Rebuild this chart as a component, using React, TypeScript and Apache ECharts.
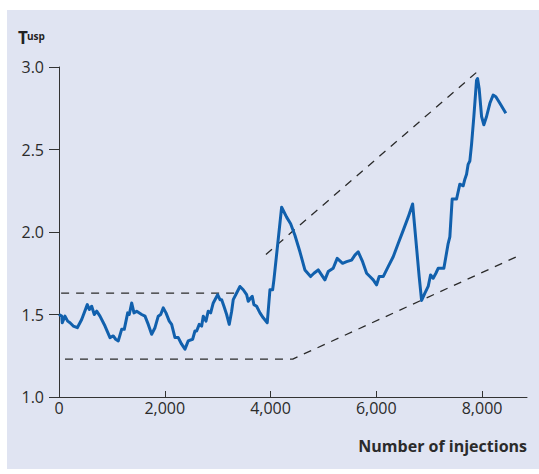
import React, { useEffect, useRef } from "react";
import * as echarts from "echarts";

// T_usp trace: [number of injections, T_usp]
const tuspX = [0, 51, 62, 113, 164, 208, 270, 346, 429, 535, 573, 618, 667, 713, 775, 870, 964, 1026, 1072, 1121, 1185, 1234, 1299, 1329, 1374, 1418, 1469, 1563, 1626, 1688, 1752, 1815, 1877, 1923, 1972, 2023, 2085, 2130, 2193, 2255, 2319, 2382, 2444, 2527, 2571, 2603, 2652, 2698, 2728, 2779, 2822, 2868, 2917, 3000, 3044, 3076, 3119, 3170, 3219, 3265, 3295, 3359, 3422, 3484, 3548, 3579, 3624, 3654, 3686, 3737, 3800, 3862, 3938, 3989, 4040, 4064, 4210, 4304, 4380, 4461, 4556, 4650, 4758, 4821, 4902, 5028, 5091, 5185, 5261, 5363, 5439, 5533, 5596, 5658, 5741, 5817, 5879, 5942, 6006, 6055, 6131, 6225, 6320, 6414, 6509, 6603, 6687, 6749, 6811, 6857, 6919, 6981, 7027, 7076, 7127, 7170, 7278, 7316, 7359, 7391, 7435, 7518, 7580, 7643, 7675, 7707, 7737, 7769, 7801, 7845, 7896, 7915, 7945, 7991, 8034, 8085, 8148, 8210, 8261, 8337, 8450];
const tuspY = [1.5, 1.49, 1.45, 1.49, 1.46, 1.45, 1.43, 1.42, 1.47, 1.56, 1.53, 1.55, 1.5, 1.52, 1.49, 1.43, 1.36, 1.37, 1.35, 1.34, 1.41, 1.41, 1.51, 1.5, 1.57, 1.51, 1.52, 1.5, 1.49, 1.44, 1.38, 1.42, 1.49, 1.5, 1.54, 1.51, 1.46, 1.44, 1.36, 1.36, 1.32, 1.29, 1.34, 1.35, 1.4, 1.4, 1.44, 1.43, 1.49, 1.46, 1.52, 1.51, 1.57, 1.62, 1.59, 1.59, 1.55, 1.5, 1.44, 1.52, 1.59, 1.63, 1.67, 1.65, 1.62, 1.58, 1.6, 1.61, 1.56, 1.55, 1.51, 1.48, 1.45, 1.65, 1.65, 1.71, 2.15, 2.09, 2.05, 1.98, 1.88, 1.77, 1.73, 1.75, 1.77, 1.71, 1.76, 1.78, 1.84, 1.81, 1.82, 1.83, 1.86, 1.88, 1.82, 1.75, 1.73, 1.71, 1.68, 1.73, 1.73, 1.79, 1.85, 1.93, 2.01, 2.09, 2.17, 1.95, 1.73, 1.585, 1.63, 1.67, 1.74, 1.72, 1.75, 1.78, 1.78, 1.85, 1.93, 1.97, 2.2, 2.2, 2.29, 2.28, 2.32, 2.35, 2.41, 2.43, 2.53, 2.7, 2.92, 2.93, 2.87, 2.7, 2.65, 2.7, 2.78, 2.83, 2.82, 2.78, 2.72];

// Dashed guide lines: [x, y] end points
const upperFlat = [[40, 1.63], [3350, 1.63]];
const lowerFlat = [[113, 1.23], [4420, 1.23], [8720, 1.86]];
const upperSlope = [[3913, 1.864], [7959, 2.985]];

const xTicks = [0, 2000, 4000, 6000, 8000];
const yTicks = [1.0, 1.5, 2.0, 2.5, 3.0];

const FONT = "'Open Sans', 'Noto Sans', sans-serif";

export default function App() {
  const ref = useRef<HTMLDivElement>(null);
  useEffect(() => {
    if (!ref.current) return;
    const chart = echarts.init(ref.current, null, { renderer: "svg" });
    const dashed = (data: number[][]) => ({
      type: "line",
      data,
      symbol: "none",
      silent: true,
      clip: false,
      lineStyle: { color: "#2a2a2a", width: 1.3, type: [8, 7] },
    });
    chart.setOption({
      animation: false,
      backgroundColor: "#ffffff",
      textStyle: { fontFamily: FONT },
      graphic: [
        {
          type: "rect",
          z: -10,
          silent: true,
          shape: { x: 7, y: 10, width: 532, height: 459 },
          style: { fill: "#e0e4f2" },
        },
        {
          type: "text",
          x: 18,
          y: 29,
          style: { text: "T", font: `bold 17px ${FONT}`, fill: "#222" },
        },
        {
          type: "text",
          x: 27,
          y: 31,
          style: { text: "usp", font: `bold 10px ${FONT}`, fill: "#222" },
        },
      ],
      grid: { left: 59, right: 12, top: 67, bottom: 77, containLabel: false, outerBoundsMode: "none" },
      xAxis: {
        type: "value",
        min: 0,
        max: 8850,
        interval: 2000,
        splitLine: { show: false },
        axisLine: { show: true, lineStyle: { color: "#333", width: 1 } },
        axisTick: { show: true, inside: true, length: 6, lineStyle: { color: "#333" }, customValues: xTicks },
        axisLabel: {
          customValues: xTicks,
          color: "#2b2b2b",
          fontSize: 16,
          fontFamily: FONT,
          margin: 3,
          formatter: (v: number) => v.toLocaleString("en-US"),
        },
        name: "Number of injections",
        nameLocation: "end",
        nameGap: 0,
        nameTextStyle: {
          fontSize: 16,
          fontWeight: "bold",
          color: "#2b2b2b",
          fontFamily: FONT,
          align: "right",
          verticalAlign: "top",
          padding: [41, 0, 0, 0],
        },
      },
      yAxis: {
        type: "value",
        min: 1.0,
        max: 3.0,
        interval: 0.5,
        splitLine: { show: false },
        axisLine: { show: true, lineStyle: { color: "#333", width: 1 } },
        axisTick: { show: true, inside: false, length: 10, lineStyle: { color: "#333" } },
        axisLabel: {
          color: "#2b2b2b",
          fontSize: 16,
          fontFamily: FONT,
          margin: 15,
          formatter: (v: number) => v.toFixed(1),
        },
      },
      series: [
        dashed(upperFlat),
        dashed(lowerFlat),
        dashed(upperSlope),
        {
          type: "line",
          data: tuspX.map((x, i) => [x, tuspY[i]]),
          symbol: "none",
          lineStyle: { color: "#1160ad", width: 3, join: "round" },
          z: 5,
        },
      ],
    });
    return () => chart.dispose();
  }, []);
  return (
    <div
      ref={ref}
      style={{ position: "fixed", left: 0, top: 0, width: 539, height: 474 }}
    />
  );
}
